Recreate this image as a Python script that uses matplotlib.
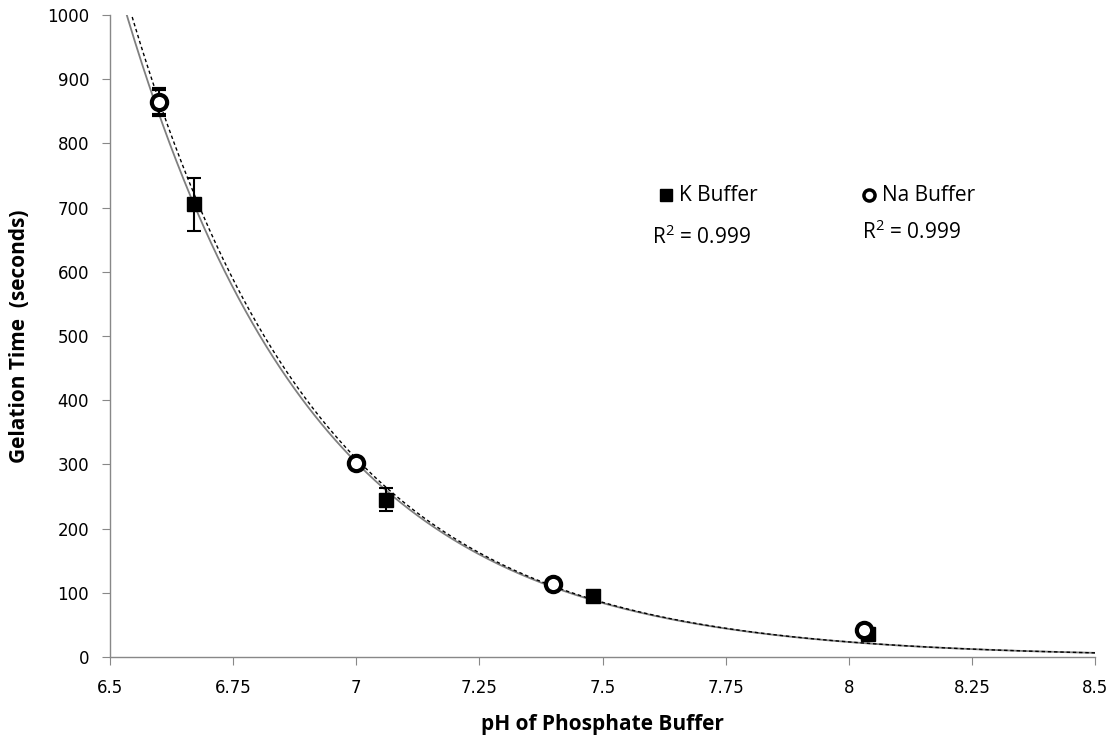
import numpy as np
import matplotlib
matplotlib.use("Agg")
import matplotlib.pyplot as plt

# Measured gelation times (seconds) versus buffer pH
k_ph = [6.67, 7.06, 7.48, 8.04]
k_time = [705, 245, 95, 36]
k_err = [41, 18, 3, 2]

na_ph = [6.60, 7.00, 7.40, 8.03]
na_time = [865, 302, 113, 42]
na_err = [20, 6, 4, 3]

# Exponential trendlines: time = a * exp(-b * pH)
k_fit = (1.863e10, 2.562)
na_fit = (2.08e10, 2.575)

r2_k = "R$^2$ = 0.999"
r2_na = "R$^2$ = 0.999"

x_ticks = [6.5, 6.75, 7.0, 7.25, 7.5, 7.75, 8.0, 8.25, 8.5]
x_tick_labels = ["6.5", "6.75", "7", "7.25", "7.5", "7.75", "8", "8.25", "8.5"]
y_ticks = list(range(0, 1001, 100))

plt.rcParams["font.family"] = ["Open Sans", "DejaVu Sans"]
plt.rcParams["mathtext.fontset"] = "custom"
plt.rcParams["mathtext.rm"] = "Open Sans"

fig = plt.figure(figsize=(11.1, 7.44), dpi=100)
ax = fig.add_axes([0.0991, 0.1169, 0.8874, 0.8629])

xs = np.linspace(6.4, 8.5, 600)
ax.plot(xs, k_fit[0] * np.exp(-k_fit[1] * xs), color="#808080", lw=1.3, zorder=2)
ax.plot(xs, na_fit[0] * np.exp(-na_fit[1] * xs), color="black", lw=1.0,
        linestyle=(0, (2.5, 2.0)), zorder=2)

ax.errorbar(k_ph, k_time, yerr=k_err, fmt="s", color="black", ms=10,
            ecolor="black", elinewidth=1.5, capsize=5, capthick=1.5, zorder=4)
ax.errorbar(na_ph, na_time, yerr=na_err, fmt="o", color="black", ms=11,
            mfc="white", mec="black", mew=3, ecolor="black", elinewidth=1.5,
            capsize=5, capthick=1.5, zorder=5)

ax.set_xlim(6.5, 8.5)
ax.set_ylim(0, 1000)
ax.set_xticks(x_ticks)
ax.set_xticklabels(x_tick_labels)
ax.set_yticks(y_ticks)

for side in ("top", "right"):
    ax.spines[side].set_visible(False)
for side in ("left", "bottom"):
    ax.spines[side].set_color("#888888")
    ax.spines[side].set_linewidth(1.0)
ax.tick_params(axis="both", direction="out", color="#888888", length=6,
               labelcolor="black")
ax.tick_params(axis="x", pad=10)
ax.tick_params(axis="y", pad=9)
for lab in ax.get_xticklabels() + ax.get_yticklabels():
    lab.set_fontfamily("DejaVu Sans")
    lab.set_fontsize(12)

ax.set_xlabel("pH of Phosphate Buffer", fontsize=15, fontweight="bold", labelpad=12)
ax.set_ylabel("Gelation Time  (seconds)", fontsize=15, fontweight="bold", labelpad=12)

# Legend entries and fit statistics
ax.plot([0.5645], [0.7196], transform=ax.transAxes, marker="s", color="black",
        ms=9, clip_on=False)
ax.text(0.5780, 0.7196, "K Buffer", transform=ax.transAxes, fontsize=15,
        va="center", ha="left")
ax.plot([0.7706], [0.7196], transform=ax.transAxes, marker="o", mfc="white",
        mec="black", mew=2.5, ms=8, clip_on=False)
ax.text(0.7840, 0.7196, "Na Buffer", transform=ax.transAxes, fontsize=15,
        va="center", ha="left")
ax.text(0.5500, 0.6540, r2_k, transform=ax.transAxes, fontsize=15,
        va="center", ha="left")
ax.text(0.7630, 0.6620, r2_na, transform=ax.transAxes, fontsize=15,
        va="center", ha="left")

fig.savefig("out.png", dpi=100)
